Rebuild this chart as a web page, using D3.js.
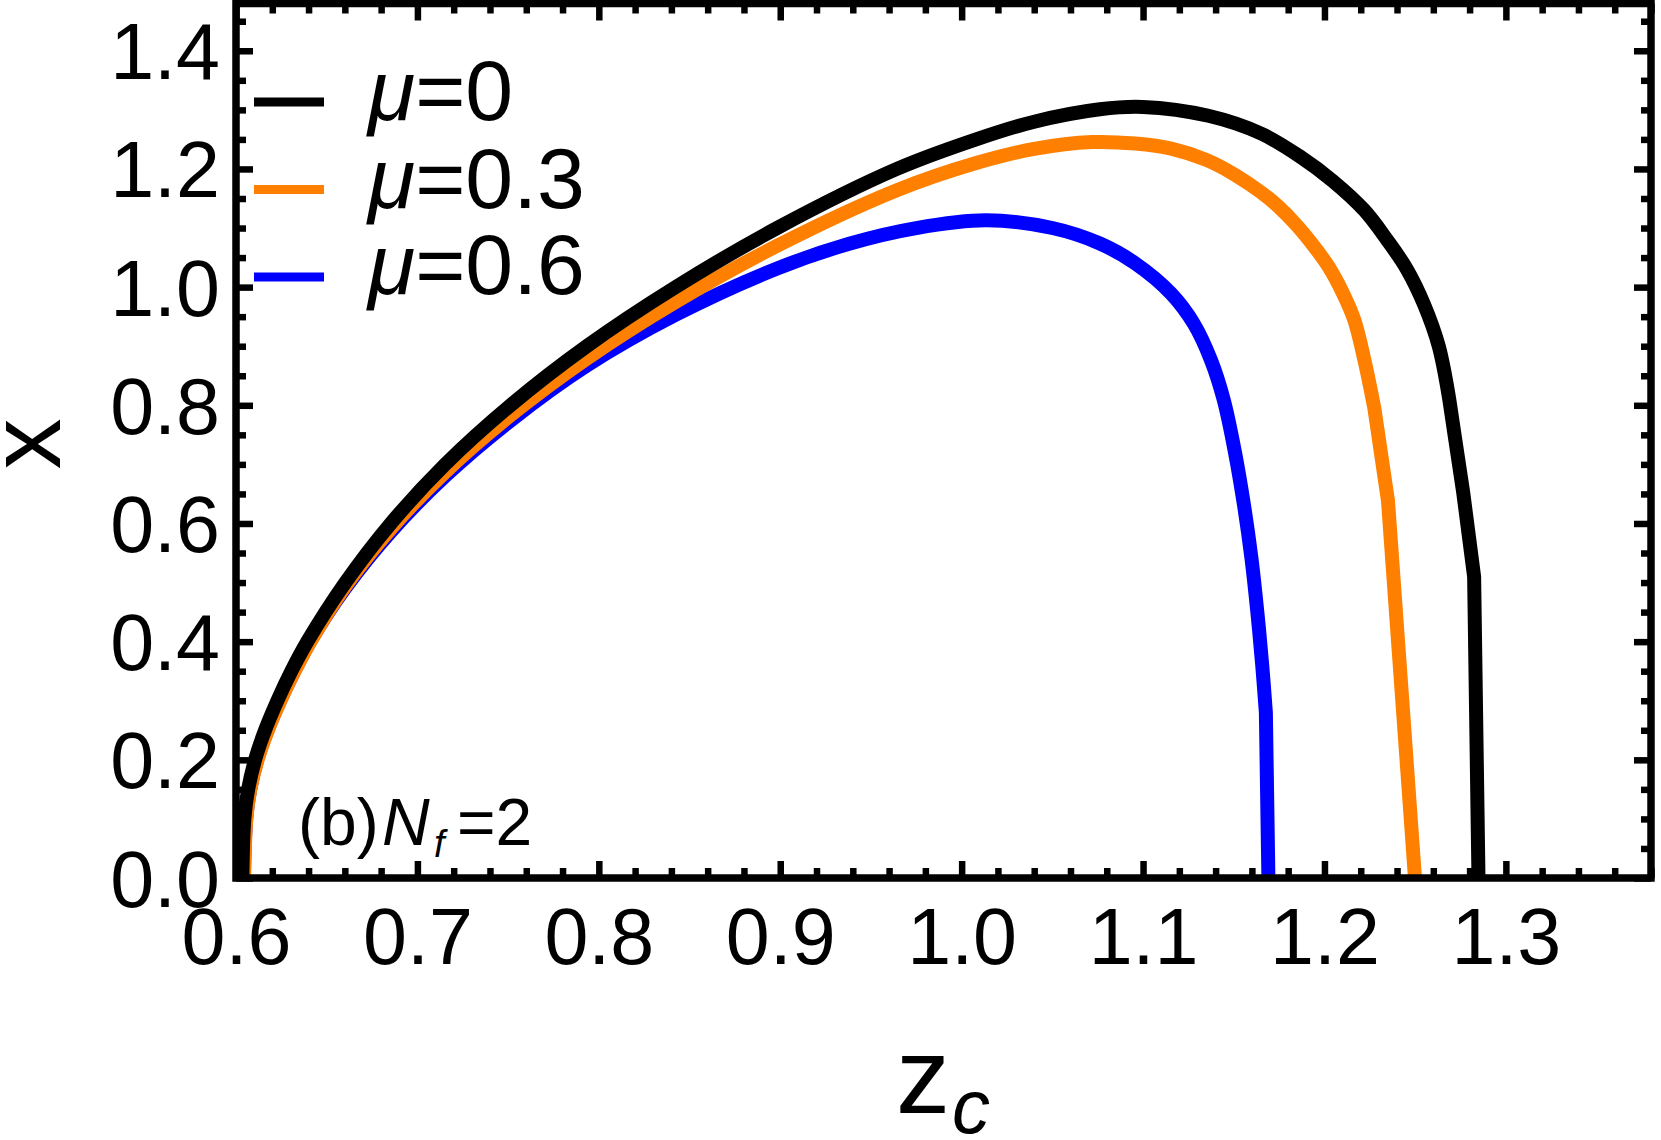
<!DOCTYPE html>
<html><head><meta charset="utf-8">
<script src="https://cdn.jsdelivr.net/npm/d3@7"></script>
<style>
body{margin:0;background:#fff}
svg{display:block}
text{font-family:"Liberation Sans",Arial,Helvetica,sans-serif;fill:#000}
</style>
</head><body>
<svg id="c" width="1661" height="1140"></svg>
<script>
// ---------- data ----------
const xTickValues = [0.6, 0.7, 0.8, 0.9, 1.0, 1.1, 1.2, 1.3];
const xTickLabels = ["0.6", "0.7", "0.8", "0.9", "1.0", "1.1", "1.2", "1.3"];
const yTickValues = [0, 0.2, 0.4, 0.6, 0.8, 1.0, 1.2, 1.4];
const yTickLabels = ["0.0", "0.2", "0.4", "0.6", "0.8", "1.0", "1.2", "1.4"];
const muValues = ["0", "0.3", "0.6"];
const seriesColors = ["#000000", "#ff8000", "#0000ff"];

// mu = 0 (black): smooth part, then straight segments
const black = [[0.6035,0],[0.6046,0.10],[0.6067,0.15],[0.6105,0.20],[0.6160,0.25],[0.6228,0.30],[0.6305,0.35],[0.6393,0.40],[0.6603,0.50],[0.6853,0.60],[0.7153,0.70],[0.7513,0.80],[0.7933,0.90],[0.8423,1.00],[0.8983,1.10],[0.9643,1.20],[1.0080,1.250],[1.0400,1.280],[1.0762,1.301],[1.0998,1.305],[1.1360,1.290],[1.1650,1.260],[1.1870,1.220],[1.2045,1.180],[1.2220,1.130],[1.2345,1.080],[1.2455,1.030],[1.2550,0.970],[1.2630,0.900],[1.2688,0.810]];
const blackTail = [[1.2722,0.74],[1.2765,0.652],[1.2825,0.51],[1.2849,0]];

// mu = 0.3 (orange)
const orange = [[0.6045,0],[0.6057,0.10],[0.6079,0.15],[0.6119,0.20],[0.6176,0.25],[0.6245,0.30],[0.6323,0.35],[0.6410,0.40],[0.6603,0.494],[0.6853,0.591],[0.7153,0.687],[0.7513,0.783],[0.7933,0.879],[0.8423,0.975],[0.8983,1.070],[0.9643,1.164],[1.0080,1.210],[1.0400,1.234],[1.0720,1.2455],[1.0958,1.243],[1.1155,1.2345],[1.1352,1.2149],[1.1510,1.1895],[1.1648,1.161],[1.1747,1.136],[1.1846,1.105],[1.1945,1.068],[1.2024,1.034],[1.2103,0.989],[1.2165,0.944],[1.2225,0.870],[1.2275,0.795]];
const orangeTail = [[1.2350,0.639],[1.2499,0]];

// mu = 0.6 (blue)
const blue = [[0.6043,0],[0.6056,0.10],[0.6078,0.15],[0.6117,0.20],[0.6174,0.25],[0.6243,0.30],[0.6321,0.35],[0.6408,0.40],[0.6603,0.491],[0.6853,0.586],[0.7153,0.680],[0.7513,0.774],[0.7933,0.867],[0.8423,0.953],[0.8983,1.0315],[0.9380,1.0735],[0.9750,1.100],[1.0136,1.113],[1.0500,1.100],[1.0762,1.0738],[1.0958,1.040],[1.1155,0.989],[1.1280,0.938],[1.1375,0.876],[1.1445,0.809],[1.1507,0.72],[1.1557,0.63],[1.1598,0.54],[1.1630,0.45],[1.1657,0.36],[1.1677,0.28]];
const blueTail = [[1.1691,0]];

// ---------- layout ----------
const svg = d3.select("#c");
const L = 236, R = 1651, T = 3.5, B = 878;
const x = d3.scaleLinear().domain([0.6, 1.38]).range([L, R]);
const y = d3.scaleLinear().domain([0, 1.48]).range([B, T]);

svg.append("defs").append("clipPath").attr("id","clip")
  .append("rect").attr("x", L).attr("y", T).attr("width", R - L).attr("height", B - T);

// curves
const line = d3.line().x(d => x(d[0])).y(d => y(d[1])).curve(d3.curveCatmullRom.alpha(0.5));
const series = [
  {pts: blue, tail: blueTail, color: seriesColors[2]},
  {pts: orange, tail: orangeTail, color: seriesColors[1]},
  {pts: black, tail: blackTail, color: seriesColors[0]}
];
const gCurves = svg.append("g").attr("clip-path", "url(#clip)");
series.forEach(s => {
  const d = line(s.pts) + s.tail.map(p => "L" + x(p[0]) + "," + y(p[1])).join("");
  gCurves.append("path").attr("d", d).attr("fill", "none")
    .attr("stroke", s.color).attr("stroke-width", 14)
    .attr("stroke-linejoin", "round").attr("stroke-linecap", "butt");
});

// axes (ticks inward)
const xMinor = d3.range(0.6, 1.3801, 0.02).filter(v => Math.abs(Math.round(v * 10) - v * 10) > 1e-6);
const yMinor = d3.range(0, 1.4801, 0.05).filter(v => Math.abs(Math.round(v * 5) - v * 5) > 1e-6);
const MAJ = 17, MIN = 10;

function styleAxis(g) {
  g.select(".domain").remove();
  g.selectAll(".tick line").attr("stroke", "#000").attr("stroke-width", 6.5);
}
const fmtX = d => xTickLabels[xTickValues.indexOf(d)] || "";
const fmtY = d => yTickLabels[yTickValues.indexOf(d)] || "";

// bottom
svg.append("g").attr("transform", `translate(0,${B})`)
  .call(d3.axisBottom(x).tickValues(xMinor).tickSize(-MIN).tickFormat("")).call(styleAxis);
const gxb = svg.append("g").attr("transform", `translate(0,${B})`)
  .call(d3.axisBottom(x).tickValues(xTickValues).tickSize(-MAJ).tickPadding(30).tickFormat(fmtX)).call(styleAxis);
gxb.selectAll("text").attr("font-size", 79).attr("font-family", "Liberation Sans, Arial, sans-serif").attr("fill", "#000");
// top
svg.append("g").attr("transform", `translate(0,${T})`)
  .call(d3.axisTop(x).tickValues(xMinor).tickSize(-MIN).tickFormat("")).call(styleAxis);
svg.append("g").attr("transform", `translate(0,${T})`)
  .call(d3.axisTop(x).tickValues(xTickValues).tickSize(-MAJ).tickFormat("")).call(styleAxis);
// left
svg.append("g").attr("transform", `translate(${L},0)`)
  .call(d3.axisLeft(y).tickValues(yMinor).tickSize(-MIN).tickFormat("")).call(styleAxis);
const gyl = svg.append("g").attr("transform", `translate(${L},0)`)
  .call(d3.axisLeft(y).tickValues(yTickValues).tickSize(-MAJ).tickPadding(16).tickFormat(fmtY)).call(styleAxis);
gyl.selectAll("text").attr("font-size", 79).attr("dy", "0.355em").attr("font-family", "Liberation Sans, Arial, sans-serif").attr("fill", "#000");
// right
svg.append("g").attr("transform", `translate(${R},0)`)
  .call(d3.axisRight(y).tickValues(yMinor).tickSize(-MIN).tickFormat("")).call(styleAxis);
svg.append("g").attr("transform", `translate(${R},0)`)
  .call(d3.axisRight(y).tickValues(yTickValues).tickSize(-MAJ).tickFormat("")).call(styleAxis);

// frame
svg.append("rect").attr("x", L).attr("y", T).attr("width", R - L).attr("height", B - T)
  .attr("fill", "none").attr("stroke", "#000").attr("stroke-width", 7.5);

// legend
const legY = [102, 189.5, 277];
const legBase = [120, 207.5, 294];
muValues.forEach((v, i) => {
  svg.append("line").attr("x1", 254).attr("x2", 324).attr("y1", legY[i]).attr("y2", legY[i])
    .attr("stroke", seriesColors[i]).attr("stroke-width", 9);
  const t = svg.append("text").attr("x", 368).attr("y", legBase[i]).attr("font-size", 86);
  t.append("tspan").attr("font-style", "italic").text("μ");
  t.append("tspan").text("=" + v);
});

// panel label
const pl = svg.append("text").attr("y", 845).attr("font-size", 66);
pl.append("tspan").attr("x", 298).text("(b)");
pl.append("tspan").attr("x", 382).attr("font-style", "italic").text("N");
pl.append("tspan").attr("x", 434).attr("font-style", "italic").attr("font-size", 38).attr("dy", 12).text("f");
pl.append("tspan").attr("x", 457).attr("dy", -12).text("=2");

// axis labels
const xl = svg.append("text").attr("x", 896).attr("y", 1113).attr("font-size", 108);
xl.append("tspan").text("z");
xl.append("tspan").attr("font-style", "italic").attr("font-size", 76).attr("dy", 20).attr("dx", 2).text("c");

svg.append("text").attr("transform", "translate(60,444) rotate(-90)")
  .attr("text-anchor", "middle").attr("font-size", 102).text("x");
</script>
</body></html>
